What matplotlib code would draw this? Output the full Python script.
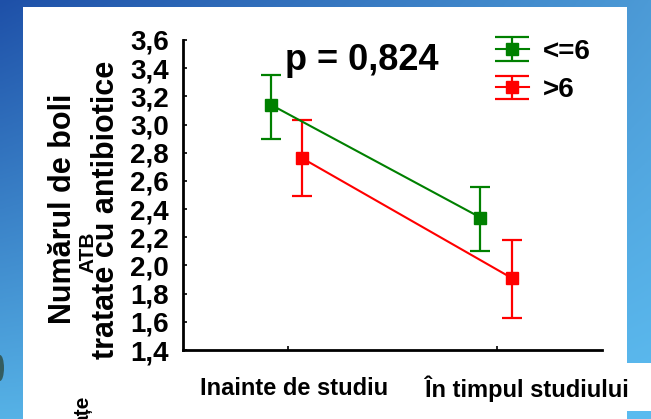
"""
Numarul de boli tratate cu antibiotice (ATB), inainte si in timpul studiului
"""
import numpy as np
import matplotlib
matplotlib.use('Agg')
import matplotlib.pyplot as plt
from matplotlib.patches import Rectangle, Ellipse
from matplotlib.container import ErrorbarContainer
from matplotlib.legend_handler import HandlerErrorbar
from matplotlib.ticker import FixedLocator, FuncFormatter

plt.rcParams['font.family'] = ['Liberation Sans', 'DejaVu Sans']
plt.rcParams['font.weight'] = 'bold'

# Date
perioade = ['Inainte de studiu', 'În timpul studiului']
grupe = ['<=6', '>6']
medii_le6 = [3.14, 2.34]
jos_le6 = [2.90, 2.10]
sus_le6 = [3.35, 2.56]
medii_gt6 = [2.76, 1.91]
jos_gt6 = [2.49, 1.63]
sus_gt6 = [3.03, 2.18]
yticks = [1.4, 1.6, 1.8, 2.0, 2.2, 2.4, 2.6, 2.8, 3.0, 3.2, 3.4, 3.6]
p_text = 'p = 0,824'

W, H = 651, 419
fig = plt.figure(figsize=(W / 100, H / 100), dpi=100)

# Fundal albastru in gradient (diapozitiv)
bg = fig.add_axes([0, 0, 1, 1], zorder=-10)
c_tl = np.array([0x1e, 0x50, 0xa8]) / 255
c_tr = np.array([0x4c, 0x9a, 0xd6]) / 255
c_bl = np.array([0x56, 0xb2, 0xe6]) / 255
c_br = np.array([0x5c, 0xbc, 0xf0]) / 255
u = np.linspace(0, 1, 200)[None, :, None]
v = np.linspace(0, 1, 200)[:, None, None]
grad = (1 - v) * ((1 - u) * c_tl + u * c_tr) + v * ((1 - u) * c_bl + u * c_br)
bg.imshow(grad, aspect='auto', extent=[0, 1, 0, 1], origin='upper')
bg.add_patch(Rectangle((23 / W, 0), (627 - 23) / W, (H - 7) / H, color='white', lw=0))
bg.add_patch(Rectangle((627 / W, 8 / H), 1, (411 - 363) / H, color='white', lw=0))
bg.add_patch(Ellipse((0, (H - 368) / H), 8 / W, 26 / H, color='#2e4a40', lw=0, alpha=0.8))
bg.set_xlim(0, 1)
bg.set_ylim(0, 1)
bg.axis('off')

ax = fig.add_axes([183 / W, (H - 350) / H, (602 - 183) / W, (350 - 40) / H])
ax.patch.set_alpha(0)

x = np.arange(len(perioade))
seturi = [
    (medii_le6, jos_le6, sus_le6, 'green', -0.08),
    (medii_gt6, jos_gt6, sus_gt6, 'red', 0.07),
]
for (m, lo, hi, col, dx), nume in zip(seturi, grupe):
    m = np.array(m)
    yerr = [m - np.array(lo), np.array(hi) - m]
    ax.errorbar(x + dx, m, yerr=yerr, fmt='-s', color=col, lw=1.5,
                elinewidth=1.6, capsize=7.5, capthick=1.6, markersize=9,
                label=nume)


class HandlerCaps(HandlerErrorbar):
    def create_artists(self, legend, orig_handle, xdescent, ydescent,
                       width, height, fontsize, trans):
        artists = super().create_artists(legend, orig_handle, xdescent, ydescent,
                                         width, height, fontsize, trans)
        for a in artists:
            if hasattr(a, 'get_marker') and a.get_marker() == '_':
                a.set_markersize(24)
        return artists


ax.legend(handler_map={ErrorbarContainer: HandlerCaps(yerr_size=0.42)},
          loc='upper right', bbox_to_anchor=(1.0, 1.04), frameon=False,
          fontsize=20, handlelength=1.2, handletextpad=0.5, labelspacing=0.45,
          borderaxespad=0)

ax.set_xlim(-0.5, 1.5)
ax.set_ylim(1.4, 3.6)
ax.yaxis.set_major_locator(FixedLocator(yticks))
ax.yaxis.set_major_formatter(FuncFormatter(lambda val, pos: f'{val:.1f}'.replace('.', ',')))
ax.set_xticks(x)
ax.set_xticklabels([])
ax.tick_params(axis='both', direction='in', length=3, width=1.2, color='black')
ax.tick_params(axis='y', labelsize=20, pad=10)
for lab in ax.get_yticklabels():
    lab.set_fontweight('bold')
ax.spines[['top', 'right']].set_visible(False)
ax.spines[['left', 'bottom']].set_linewidth(2)

# Etichete categorii (decalate ca in original)
for xi, txt in zip([0.03, 1.14], perioade):
    ax.text(xi, -0.125, txt, transform=ax.get_xaxis_transform(), ha='center',
            va='center', fontsize=17, fontweight='bold')

fig.text(285 / W, (H - 70) / H, p_text, fontsize=26, fontweight='bold',
         ha='left', va='baseline')

# Titlul axei Y (doua randuri + ATB suprapus)
fig.text(63 / W, (H - 209) / H, 'Numărul de boli', rotation=90, fontsize=22,
         fontweight='bold', ha='center', va='center')
fig.text(106 / W, (H - 210) / H, 'tratate cu antibiotice', rotation=90, fontsize=22,
         fontweight='bold', ha='center', va='center')
fig.text(88 / W, (H - 252) / H, 'ATB', rotation=90, fontsize=15,
         fontweight='bold', ha='center', va='center')
fig.text(83 / W, (H - 396) / H, 'ațe', rotation=90, fontsize=15,
         fontweight='bold', ha='center', va='top')

fig.savefig('out.png', dpi=100)
